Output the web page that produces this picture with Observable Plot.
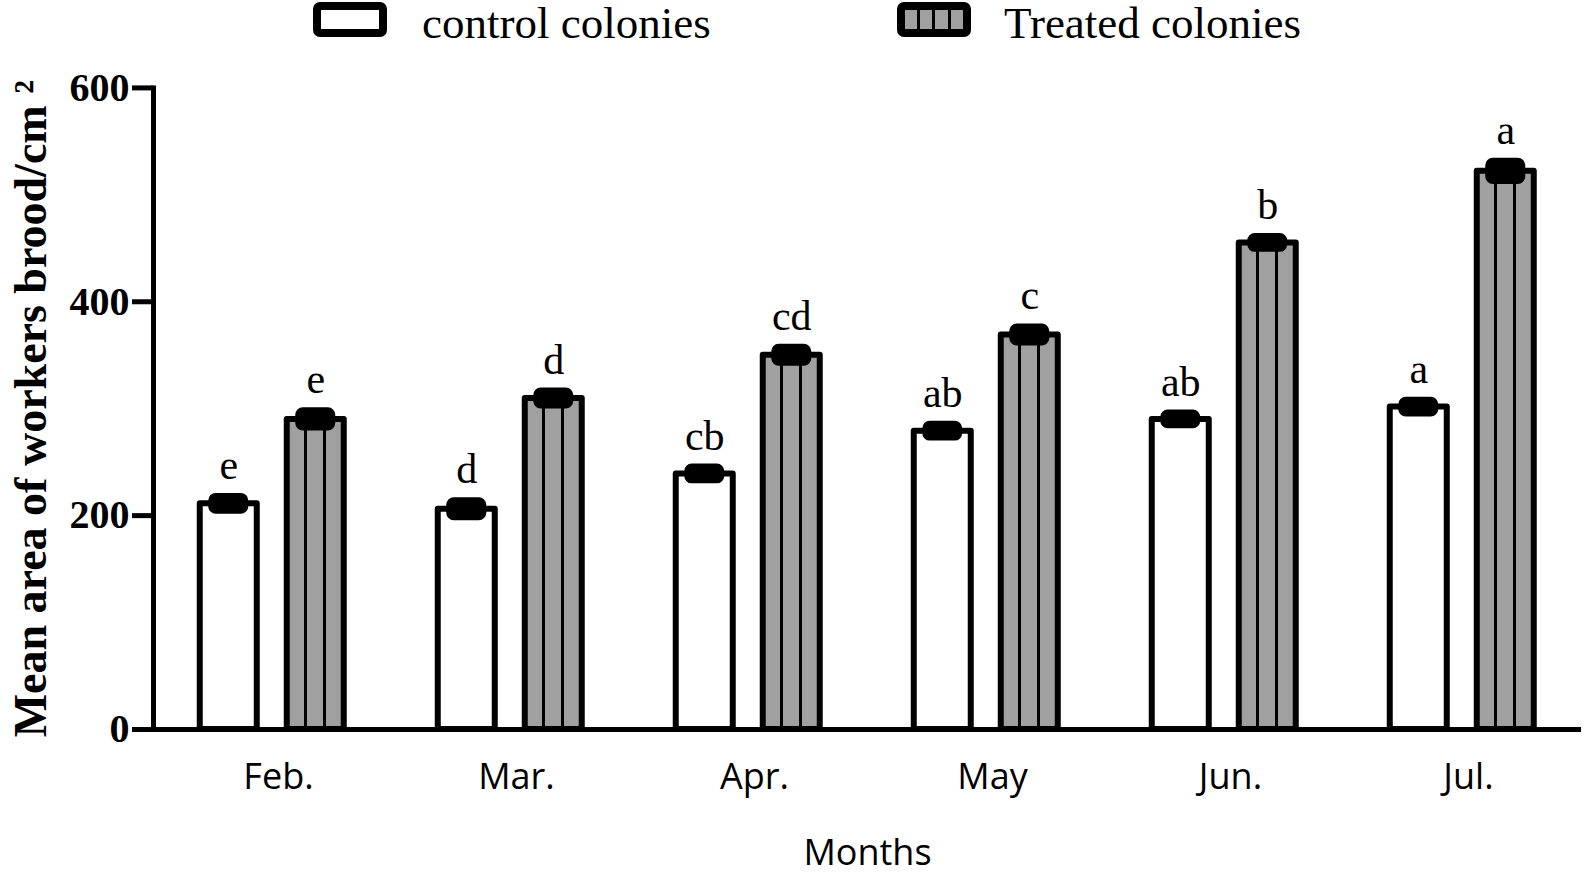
<!DOCTYPE html>
<html><head><meta charset="utf-8">
<script src="https://cdn.jsdelivr.net/npm/d3@7"></script>
<script src="https://cdn.jsdelivr.net/npm/@observablehq/plot@0.6"></script>
<style>
body{margin:0;background:#fff;}
#legend{position:relative;height:42px;width:1594px;}
.sw{position:absolute;top:2px;width:58px;height:19px;border:8px solid #000;border-radius:7px;}
.lt{position:absolute;top:1px;font-family:"Liberation Serif",serif;font-size:45px;line-height:1;white-space:nowrap;}
</style></head><body>
<svg width="0" height="0" style="position:absolute"><defs>
<linearGradient id="treatedFill" x1="0" y1="0" x2="1" y2="0">
<stop offset="0" stop-color="#a0a0a0"/><stop offset="0.31" stop-color="#a0a0a0"/>
<stop offset="0.31" stop-color="#000"/><stop offset="0.36" stop-color="#000"/>
<stop offset="0.36" stop-color="#a0a0a0"/><stop offset="0.643" stop-color="#a0a0a0"/>
<stop offset="0.643" stop-color="#000"/><stop offset="0.693" stop-color="#000"/>
<stop offset="0.693" stop-color="#a0a0a0"/><stop offset="1" stop-color="#a0a0a0"/>
</linearGradient></defs></svg>
<div id="legend"></div>
<div id="chart"></div>
<script>
const months = ["Feb.", "Mar.", "Apr.", "May", "Jun.", "Jul."];
const seriesKeys = ["control", "treated"];
const seriesNames = ["control colonies", "Treated colonies"];
const controlMeans = [211, 206, 239, 279, 290, 301.5];
const treatedMeans = [290, 309.5, 350, 369, 455, 522];
const controlSE = [6.5, 7.5, 6, 6, 5.5, 6];
const treatedSE = [7.5, 6.5, 7, 7, 5.5, 9];
const controlLetters = ["e", "d", "cb", "ab", "ab", "a"];
const treatedLetters = ["e", "d", "cd", "c", "b", "a"];
const yTicks = [0, 200, 400, 600];
const yTitle = "Mean area of workers brood/cm \u00b2";
const xTitle = "Months";

// legend
const legend = document.getElementById("legend");
const swLeft = [313, 897], txtLeft = [422, 1004];
seriesNames.forEach((name, i) => {
  const sw = document.createElement("div");
  sw.className = "sw";
  sw.style.left = swLeft[i] + "px";
  sw.style.background = i === 0 ? "#fff" :
    "linear-gradient(to right,#a0a0a0 0 12px,#000 12px 15px,#a0a0a0 15px 27px,#000 27px 30px,#a0a0a0 30px 43px,#000 43px 46px,#a0a0a0 46px 58px)";
  legend.appendChild(sw);
  const t = document.createElement("div");
  t.className = "lt";
  t.style.left = txtLeft[i] + "px";
  t.textContent = name;
  legend.appendChild(t);
});

const controlData = months.map((m, i) => ({month: m, series: "control", mean: controlMeans[i], se: controlSE[i], letter: controlLetters[i]}));
const treatedData = months.map((m, i) => ({month: m, series: "treated", mean: treatedMeans[i], se: treatedSE[i], letter: treatedLetters[i]}));
const data = controlData.concat(treatedData);

const chart = Plot.plot({
  width: 1594,
  height: 835,
  marginLeft: 152.25,
  marginRight: 11.75,
  marginTop: 45.4,
  marginBottom: 148,
  fx: {domain: months, paddingInner: 0, paddingOuter: 0},
  x: {domain: seriesKeys, paddingInner: 0.348, paddingOuter: 0.537, axis: null},
  y: {domain: [0, 600]},
  marks: [
    Plot.barY(controlData, {fx: "month", x: "series", y: "mean", fill: "#fff", stroke: "#000", strokeWidth: 6, strokeLinejoin: "round"}),
    Plot.barY(treatedData, {fx: "month", x: "series", y: "mean", fill: "url(#treatedFill)", stroke: "#000", strokeWidth: 6, strokeLinejoin: "round"}),
    Plot.barY(data, {fx: "month", x: "series", y1: d => d.mean - d.se, y2: d => d.mean + d.se, fill: "#000", stroke: "#000", strokeWidth: 7, strokeLinejoin: "round", insetLeft: 12, insetRight: 12, rx: 4}),
    Plot.text(data, {fx: "month", x: "series", y: d => d.mean + d.se, text: "letter", lineAnchor: "bottom", dy: -18, fontSize: 42, fontFamily: "Liberation Serif", fill: "#000"}),
    Plot.ruleY([0], {stroke: "#000", strokeWidth: 5}),
    Plot.frame({anchor: "left", facetAnchor: "left", stroke: "#000", strokeWidth: 5}),
    Plot.axisY({ticks: yTicks, tickSize: 21, tickPadding: 3, strokeWidth: 5, fontSize: 40, fontWeight: "bold", fontFamily: "Liberation Serif", label: null, tickFormat: d => String(d)}),
    Plot.axisY({ticks: [], label: yTitle, labelAnchor: "center", labelOffset: 140, labelArrow: "none", fontSize: 46, fontWeight: "bold", fontFamily: "Liberation Serif"}),
    Plot.axisFx({anchor: "bottom", tickSize: 0, tickPadding: 34, fontSize: 36, fontFamily: "Open Sans", label: null, dx: 6}),
    Plot.axisFx({anchor: "bottom", ticks: [], label: xTitle, labelAnchor: "center", labelOffset: 135, labelArrow: "none", fontSize: 36, fontFamily: "Open Sans"})
  ]
});
document.getElementById("chart").appendChild(chart);
</script>
</body></html>
